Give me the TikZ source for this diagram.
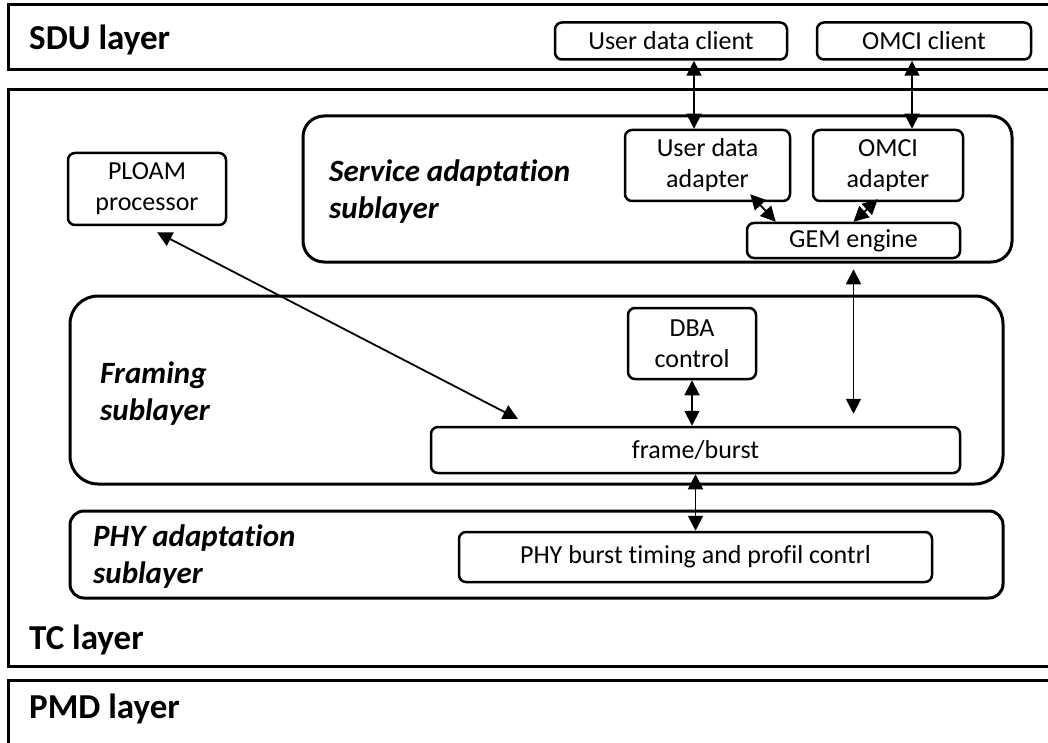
\documentclass[tikz,border=0pt]{standalone}
\usepackage{fontspec}
\setmainfont{Carlito}[Ligatures=NoCommon]
\usetikzlibrary{arrows.meta}

\newcommand{\layerfont}{\fontsize{35}{42}\selectfont\bfseries}
\newcommand{\subfont}{\fontsize{31}{37}\selectfont\bfseries\itshape}
\newcommand{\boxfont}{\fontsize{26}{31}\selectfont}

\begin{document}
\begin{tikzpicture}[x=1pt,y=-1pt,
    layer/.style={line width=3pt},
    sublayer/.style={line width=3pt},
    block/.style={draw, line width=2.5pt, rounded corners=7pt, inner sep=0pt, align=center, font=\boxfont},
    layertext/.style={inner sep=0pt, anchor=base west, font=\layerfont},
    subtext/.style={inner sep=0pt, anchor=west, align=left, font=\subfont},
    link/.style={{Triangle[length=15pt,width=15pt]}-{Triangle[length=15pt,width=15pt]}, line width=1.8pt}]

    \useasboundingbox (0,0) rectangle (1048,743);
    \clip (0,0) rectangle (1048,743);

    %% SDU layer
    \draw[layer] (8,5) rectangle (1070,70);
    \node[layertext] (sdu) at (29,50) {SDU layer};
    \node[block, minimum width=232pt, minimum height=37pt] (udclient) at (671,41) {User data client};
    \node[block, minimum width=214pt, minimum height=37pt] (omciclient) at (924,41) {OMCI client};

    %% TC layer
    \draw[layer] (8,90) rectangle (1070,666);
    \node[layertext] (tc) at (29,649) {TC layer};

    % PLOAM processor
    \node[block, minimum width=158pt, minimum height=72pt] (ploam) at (147,189) {PLOAM\\processor};

    % Service adaptation sublayer
    \draw[sublayer, rounded corners=21pt] (303,116) rectangle (1012,262);
    \node[subtext] (sat) at (329,192) {Service adaptation\\sublayer};
    \node[block, minimum width=165pt, minimum height=71pt] (udadapter) at (707.5,165.5) {User data\\adapter};
    \node[block, minimum width=150pt, minimum height=71pt] (omciadapter) at (888,165.5) {OMCI\\adapter};
    \node[block, minimum width=213pt, minimum height=35pt] (gem) at (853.5,240.5) {GEM engine};

    % Framing sublayer
    \draw[sublayer, rounded corners=28pt] (70,296) rectangle (1003,484);
    \node[subtext] (fst) at (100,394) {Framing\\sublayer};
    \node[block, minimum width=128pt, minimum height=71pt] (dba) at (692,343.5) {DBA\\control};
    \node[block, minimum width=529pt, minimum height=46pt] (frame) at (695.5,450) {frame/burst};

    % PHY adaptation sublayer
    \draw[sublayer, rounded corners=14pt] (70,511) rectangle (1003,598);
    \node[subtext] (pst) at (93,557) {PHY adaptation\\sublayer};
    \node[block, minimum width=473pt, minimum height=50pt] (phyburst) at (695.5,557) {PHY burst timing and profil contrl};

    %% PMD layer
    \draw[layer] (8,680) rectangle (1070,770);
    \node[layertext] (pmd) at (29,718) {PMD layer};

    %% Connections
    \draw[link] ([xshift=23pt]udclient.south) -- ([xshift=23pt]udclient.south |- udadapter.north);
    \draw[link] ([xshift=-12pt]omciclient.south) -- ([xshift=-12pt]omciclient.south |- omciadapter.north);
    \draw[link] ([xshift=-41pt,yshift=8pt]udadapter.south east) -- ([xshift=30pt]gem.north west);
    \draw[link] ([xshift=66pt,yshift=3pt]omciadapter.south west) -- (gem.north);
    \draw[link] ([yshift=-10pt]gem.south) -- ([yshift=12pt]gem.south |- frame.north);
    \draw[link] (dba.south) -- (dba.south |- frame.north);
    \draw[link] (phyburst.north |- frame.south) -- (phyburst.north);
    \coordinate (ploamtip) at (518,419);
    \draw[link] ([xshift=10pt,yshift=-6pt]ploam.south) -- (ploamtip);

\end{tikzpicture}
\end{document}
